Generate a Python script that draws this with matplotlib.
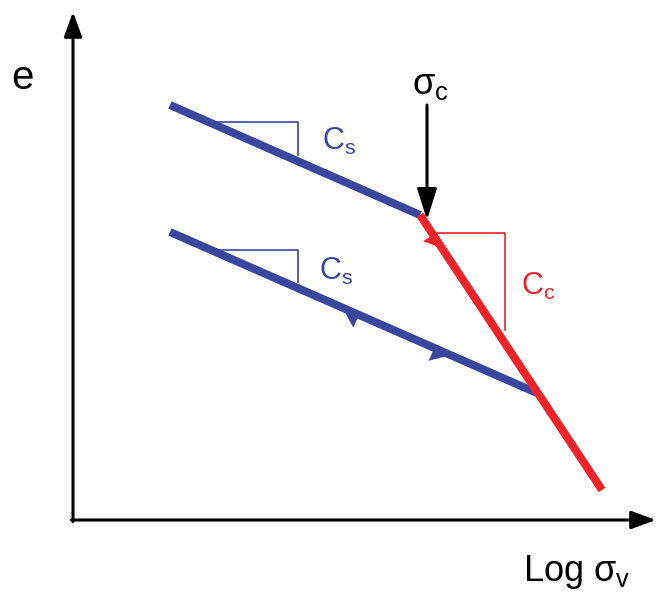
import numpy as np
import matplotlib
matplotlib.use("Agg")
import matplotlib.pyplot as plt
from matplotlib.patches import Polygon

plt.rcParams['font.family'] = ['Liberation Sans', 'DejaVu Sans']
plt.rcParams['mathtext.fontset'] = 'custom'
plt.rcParams['mathtext.rm'] = 'Liberation Sans'
plt.rcParams['mathtext.it'] = 'Liberation Sans'
plt.rcParams['mathtext.bf'] = 'Liberation Sans:bold'

# Schematic frame (x: log sigma_v, y: e) in drawing units
axis_origin = (73, 520)
axis_x_end = 656
axis_y_end = 12

# Virgin / recompression curves
upper_cs_x = [170, 420]
upper_cs_y = [105, 215]
cc_x = [420, 602]
cc_y = [215, 490]
lower_cs_x = [170, 537]
lower_cs_y = [232, 393]

# Slope triangles: (x_left, x_right, y_top, y_bottom)
tri_cs_upper = (215, 298, 122, 155)
tri_cs_lower = (215, 298, 250, 282)
tri_cc = (437, 505, 233, 330)

# Preconsolidation arrow
sigc_x = 427
sigc_y = [105, 220]

BLUE = '#3b479f'
RED = '#ee2228'

fig = plt.figure(figsize=(6.56, 5.94), dpi=100)
ax = fig.add_axes([0, 0, 1, 1])
ax.set_xlim(0, 656)
ax.set_ylim(594, 0)
ax.axis('off')

# axes with arrows
ox, oy = axis_origin
ax.annotate('', xy=(ox, axis_y_end), xytext=(ox, oy + 1.5),
            arrowprops=dict(arrowstyle='-|>,head_length=1.5,head_width=0.55', color='black', lw=2.2,
                            shrinkA=0, shrinkB=0))
ax.annotate('', xy=(axis_x_end, oy), xytext=(ox - 1.5, oy),
            arrowprops=dict(arrowstyle='-|>,head_length=1.5,head_width=0.55', color='black', lw=2.2,
                            shrinkA=0, shrinkB=0))

# lines
ax.plot(upper_cs_x, upper_cs_y, color=BLUE, lw=5.8, solid_capstyle='butt', zorder=3)
ax.plot(lower_cs_x, lower_cs_y, color=BLUE, lw=5.8, solid_capstyle='butt', zorder=3)
ax.plot(cc_x, cc_y, color=RED, lw=5.8, solid_capstyle='butt', zorder=4)

# triangles
def tri(t, color):
    xl, xr, yt, yb = t
    ax.plot([xl, xr, xr], [yt, yt, yb], color=color, lw=1.2, zorder=2)
tri(tri_cs_upper, BLUE)
tri(tri_cs_lower, BLUE)
tri(tri_cc, RED)

# half arrowheads on lines
def half_head(xs, ys, frac, forward, color, side=1, L=18, W=14):
    p0 = np.array([xs[0], ys[0]], float)
    p1 = np.array([xs[1], ys[1]], float)
    d = (p1 - p0) / np.linalg.norm(p1 - p0)
    if not forward:
        d = -d
    tip = p0 + frac * (p1 - p0)
    n = np.array([-d[1], d[0]]) * side
    base = tip - d * L
    poly = Polygon([tip, base, base + n * W], closed=True, color=color, zorder=5, lw=0)
    ax.add_patch(poly)

half_head(lower_cs_x, lower_cs_y, 0.47, False, BLUE, side=-1)
half_head(lower_cs_x, lower_cs_y, 0.765, True, BLUE, side=1)
half_head(cc_x, cc_y, 0.12, True, RED, side=1, L=16, W=12)

# preconsolidation arrow
ax.annotate('', xy=(sigc_x, sigc_y[1]), xytext=(sigc_x, sigc_y[0]),
            arrowprops=dict(arrowstyle='-|>,head_length=1.9,head_width=0.6', color='black', lw=2.2,
                            shrinkA=0, shrinkB=0), zorder=6)

# labels
ax.text(22, 78, 'e', fontsize=29, ha='center', va='center')
ax.text(430, 84, r'$\mathrm{\sigma_c}$', fontsize=26, ha='center', va='center')
ax.text(339, 141, r'$\mathrm{C_s}$', fontsize=22, ha='center', va='center', color=BLUE)
ax.text(336, 271, r'$\mathrm{C_s}$', fontsize=22, ha='center', va='center', color=BLUE)
ax.text(538, 286, r'$\mathrm{C_c}$', fontsize=22, ha='center', va='center', color=RED)
ax.text(577, 572, r'$\mathrm{Log\ \sigma_v}$', fontsize=26, ha='center', va='center')

fig.savefig('out.png', dpi=100)
